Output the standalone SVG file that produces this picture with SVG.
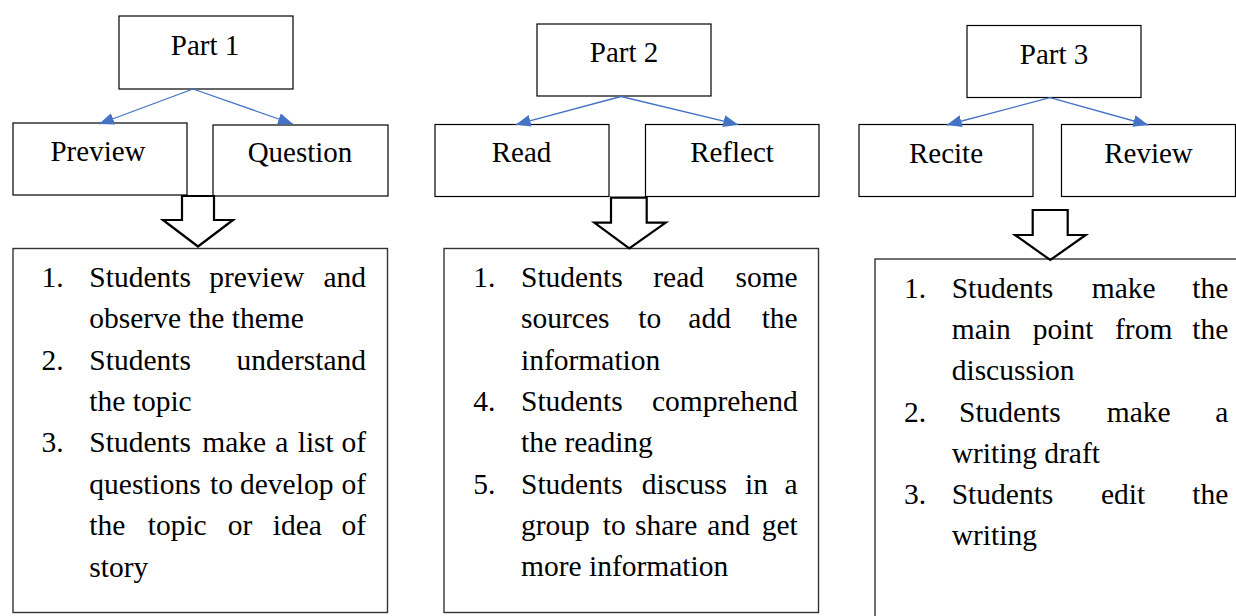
<svg xmlns="http://www.w3.org/2000/svg" width="1236" height="616" viewBox="0 0 1236 616">
<style>
.box{fill:#fff;stroke:#000;stroke-width:1.2}
.cbox{fill:#fff;stroke:#333;stroke-width:1.4}
.lbl{font-family:"Liberation Serif","DejaVu Serif",serif;font-size:29px;fill:#000;text-anchor:middle}
.t{font-family:"Liberation Serif","DejaVu Serif",serif;font-size:29.5px;fill:#000}
.e{text-anchor:end}
.conn{stroke:#4472C4;stroke-width:1.3;fill:none}
.block{fill:#fff;stroke:#000;stroke-width:2.2;stroke-linejoin:miter}
</style>
<defs>
<marker id="ah" markerUnits="userSpaceOnUse" markerWidth="16" markerHeight="12" refX="15" refY="6" orient="auto">
<path d="M0,0 L15,6 L0,12 Z" fill="#4472C4"/>
</marker>
</defs>
<rect width="1236" height="616" fill="#fff"/>

<g id="part1">
<rect class="box" x="119" y="16" width="174" height="73"/>
<text class="lbl" x="205" y="55">Part 1</text>
</g>
<g id="preview">
<rect class="box" x="13" y="123" width="174" height="72"/>
<text class="lbl" x="98" y="161">Preview</text>
</g>
<g id="question">
<rect class="box" x="213" y="125" width="175" height="71"/>
<text class="lbl" x="300" y="162">Question</text>
</g>

<g id="part2">
<rect class="box" x="537" y="24" width="174" height="72"/>
<text class="lbl" x="624" y="62">Part 2</text>
</g>
<g id="read">
<rect class="box" x="435" y="124.5" width="174" height="72"/>
<text class="lbl" x="521.5" y="162">Read</text>
</g>
<g id="reflect">
<rect class="box" x="645.5" y="124.5" width="173.5" height="72"/>
<text class="lbl" x="732" y="162">Reflect</text>
</g>

<g id="part3">
<rect class="box" x="967" y="25.5" width="174" height="72"/>
<text class="lbl" x="1054" y="64">Part 3</text>
</g>
<g id="recite">
<rect class="box" x="859" y="124.5" width="174" height="72"/>
<text class="lbl" x="946" y="162.5">Recite</text>
</g>
<g id="review">
<rect class="box" x="1061.5" y="124.5" width="174" height="72"/>
<text class="lbl" x="1148.5" y="162.5">Review</text>
</g>

<g id="list1">
<rect class="cbox" x="13" y="248.5" width="374.5" height="364"/>
<text class="t" x="41.5" y="286.7">1.</text>
<text class="t" x="89.3" y="286.7">Students</text>
<text class="t" x="209.3" y="286.7">preview</text>
<text class="t e" x="366" y="286.7">and</text>
<text class="t" x="89.3" y="328.2">observe the theme</text>
<text class="t" x="41.5" y="369.5">2.</text>
<text class="t" x="89.3" y="369.5">Students</text>
<text class="t e" x="366" y="369.5">understand</text>
<text class="t" x="89.3" y="410.8">the topic</text>
<text class="t" x="41.5" y="452.2">3.</text>
<text class="t" x="89.3" y="452.2">Students</text>
<text class="t" x="202.3" y="452.2">make</text>
<text class="t" x="275.3" y="452.2">a</text>
<text class="t" x="297.7" y="452.2">list</text>
<text class="t e" x="366" y="452.2">of</text>
<text class="t" x="89.3" y="493.5">questions</text>
<text class="t" x="210" y="493.5">to</text>
<text class="t" x="240" y="493.5">develop</text>
<text class="t e" x="366" y="493.5">of</text>
<text class="t" x="89.3" y="535">the</text>
<text class="t" x="147.7" y="535">topic</text>
<text class="t" x="227.7" y="535">or</text>
<text class="t" x="272.7" y="535">idea</text>
<text class="t e" x="366" y="535">of</text>
<text class="t" x="89.3" y="576.5">story</text>
</g>

<g id="list2">
<rect class="cbox" x="444" y="248.5" width="374.5" height="364"/>
<text class="t" x="473.3" y="286.7">1.</text>
<text class="t" x="521" y="286.7">Students</text>
<text class="t" x="653.3" y="286.7">read</text>
<text class="t e" x="797.7" y="286.7">some</text>
<text class="t" x="521" y="328.2">sources</text>
<text class="t" x="638.3" y="328.2">to</text>
<text class="t" x="688.3" y="328.2">add</text>
<text class="t e" x="797.7" y="328.2">the</text>
<text class="t" x="521" y="369.5">information</text>
<text class="t" x="473.3" y="410.8">4.</text>
<text class="t" x="521" y="410.8">Students</text>
<text class="t e" x="797.7" y="410.8">comprehend</text>
<text class="t" x="521" y="452.2">the reading</text>
<text class="t" x="473.3" y="493.5">5.</text>
<text class="t" x="521" y="493.5">Students</text>
<text class="t" x="641.7" y="493.5">discuss</text>
<text class="t" x="745" y="493.5">in</text>
<text class="t e" x="797.7" y="493.5">a</text>
<text class="t" x="521" y="535">group</text>
<text class="t" x="602.7" y="535">to</text>
<text class="t" x="635" y="535">share</text>
<text class="t" x="707.3" y="535">and</text>
<text class="t e" x="797.7" y="535">get</text>
<text class="t" x="521" y="576">more information</text>
</g>

<g id="list3">
<rect class="cbox" x="875" y="259" width="400" height="400"/>
<text class="t" x="904" y="298.3">1.</text>
<text class="t" x="951.7" y="298.3">Students</text>
<text class="t" x="1091.7" y="298.3">make</text>
<text class="t e" x="1228.3" y="298.3">the</text>
<text class="t" x="951.7" y="339.3">main</text>
<text class="t" x="1032.7" y="339.3">point</text>
<text class="t" x="1115" y="339.3">from</text>
<text class="t e" x="1228.3" y="339.3">the</text>
<text class="t" x="951.7" y="379.8">discussion</text>
<text class="t" x="904" y="421.5">2.</text>
<text class="t" x="959" y="421.5">Students</text>
<text class="t" x="1106.7" y="421.5">make</text>
<text class="t e" x="1228.3" y="421.5">a</text>
<text class="t" x="951.7" y="462.7">writing draft</text>
<text class="t" x="904" y="503.5">3.</text>
<text class="t" x="951.7" y="503.5">Students</text>
<text class="t" x="1101" y="503.5">edit</text>
<text class="t e" x="1228.3" y="503.5">the</text>
<text class="t" x="951.7" y="545">writing</text>
</g>

<g id="connectors">
<line class="conn" x1="193" y1="89" x2="99" y2="124" marker-end="url(#ah)"/>
<line class="conn" x1="193" y1="89" x2="293" y2="124" marker-end="url(#ah)"/>
<line class="conn" x1="621" y1="96.5" x2="515.7" y2="124.7" marker-end="url(#ah)"/>
<line class="conn" x1="621" y1="96.5" x2="738.3" y2="124.7" marker-end="url(#ah)"/>
<line class="conn" x1="1050" y1="97.7" x2="946.7" y2="125" marker-end="url(#ah)"/>
<line class="conn" x1="1050" y1="97.7" x2="1148.3" y2="125" marker-end="url(#ah)"/>
<polygon class="block" points="182,196 214,196 214,220 233,220 198,246.5 163,220 182,220"/>
<polygon class="block" points="611,197.7 646.7,197.7 646.7,222.7 665.7,222.7 629.3,248.3 594.3,222.7 611,222.7"/>
<polygon class="block" points="1032.7,210 1067.7,210 1067.7,235 1085.7,235 1050.3,260 1015,235 1032.7,235"/>
</g>
</svg>
